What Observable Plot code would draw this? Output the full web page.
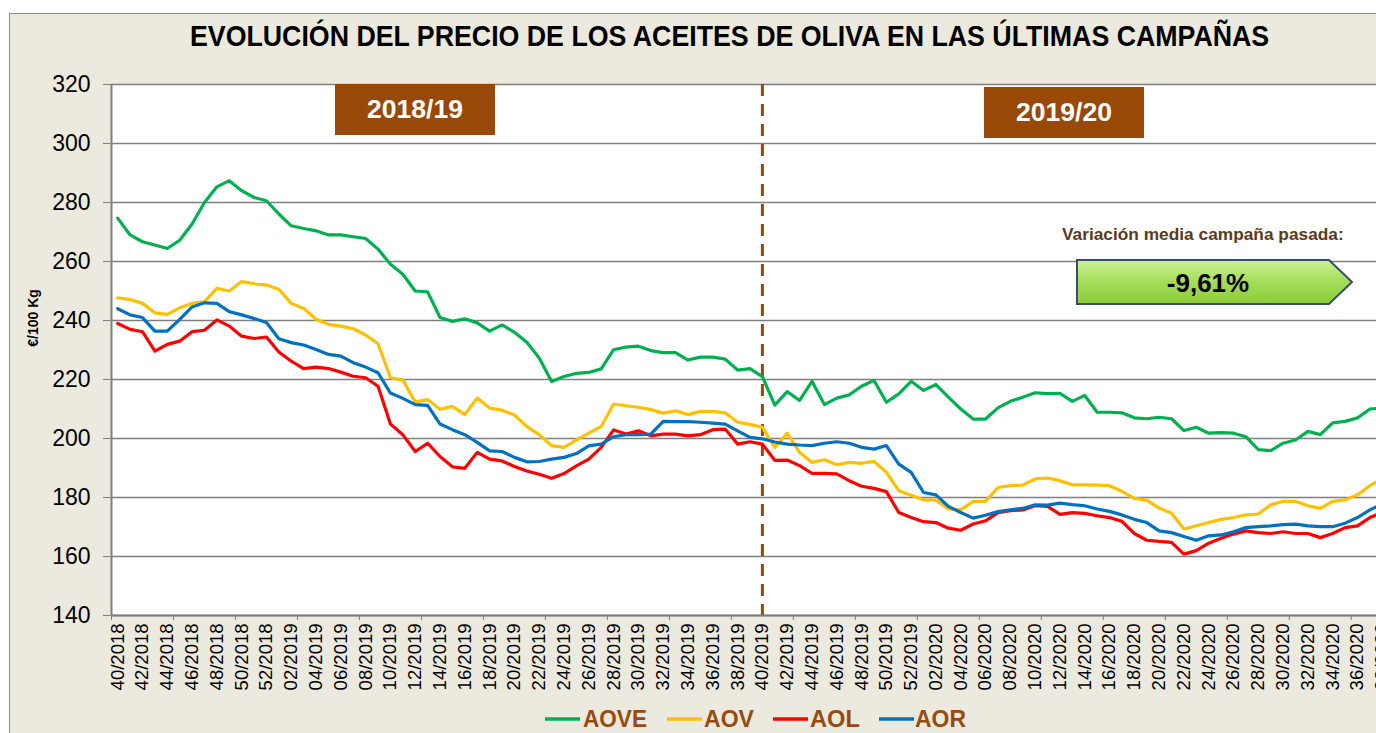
<!DOCTYPE html>
<html><head><meta charset="utf-8">
<script src="https://cdn.jsdelivr.net/npm/d3@7"></script>
<script src="https://cdn.jsdelivr.net/npm/@observablehq/plot@0.6"></script>
<style>
html,body{margin:0;padding:0;width:1376px;height:733px;overflow:hidden;background:#fff;}
#panel{position:absolute;left:9px;top:13px;width:1420px;height:800px;background:#ECE9DF;border:1.5px solid #8c8c8c;box-sizing:border-box}
#chart{position:absolute;left:0;top:0}
#overlay{position:absolute;left:0;top:0;pointer-events:none}
</style></head><body>
<div id="panel"></div>
<div id="chart"></div>
<svg id="overlay" width="1376" height="733"></svg>
<script>
const weeks = ("40/2018 41/2018 42/2018 43/2018 44/2018 45/2018 46/2018 47/2018 48/2018 49/2018 50/2018 51/2018 52/2018 " +
 "01/2019 02/2019 03/2019 04/2019 05/2019 06/2019 07/2019 08/2019 09/2019 10/2019 11/2019 12/2019 13/2019 14/2019 15/2019 16/2019 17/2019 18/2019 19/2019 20/2019 21/2019 22/2019 23/2019 24/2019 25/2019 26/2019 " +
 "27/2019 28/2019 29/2019 30/2019 31/2019 32/2019 33/2019 34/2019 35/2019 36/2019 37/2019 38/2019 39/2019 40/2019 41/2019 42/2019 43/2019 44/2019 45/2019 46/2019 47/2019 48/2019 49/2019 50/2019 51/2019 52/2019 " +
 "01/2020 02/2020 03/2020 04/2020 05/2020 06/2020 07/2020 08/2020 09/2020 10/2020 11/2020 12/2020 13/2020 14/2020 15/2020 16/2020 17/2020 18/2020 19/2020 " +
 "20/2020 21/2020 22/2020 23/2020 24/2020 25/2020 26/2020 27/2020 28/2020 29/2020 30/2020 31/2020 32/2020 33/2020 34/2020 35/2020 36/2020 37/2020 38/2020").split(" ");

const seriesNames = ["AOVE", "AOV", "AOL", "AOR"];
const seriesColors = ["#00B050", "#FFC000", "#FF0000", "#0070C0"];

const AOVE = [274.7,269.0,266.7,265.6,264.4,267.2,272.7,280.0,285.3,287.4,284.0,281.7,280.6,276.1,272.1,271.2,270.4,269.0,269.0,268.4,
 267.8,264.2,259.1,255.7,250.0,249.7,241.0,239.7,240.6,239.2,236.4,238.5,236.0,232.6,227.3,219.3,221.0,222.1,222.4,223.6,
 230.1,231.0,231.3,229.8,229.1,229.1,226.6,227.6,227.6,226.9,223.2,223.7,221.0,211.3,215.9,212.9,219.4,211.5,213.7,214.8,
 217.7,219.7,212.3,215.1,219.4,216.3,218.3,214.0,210.0,206.6,206.6,210.4,212.6,214.0,215.5,215.2,215.3,212.6,214.6,208.9,
 208.9,208.7,207.0,206.7,207.2,206.7,202.7,203.8,201.8,202.0,201.8,200.6,196.2,195.9,198.4,199.5,202.4,201.3,205.3,205.8,
 207.0,210.0,210.3];
const AOV = [247.7,247.1,245.8,242.6,242.1,244.3,245.8,246.4,250.9,250.0,253.2,252.5,252.0,250.6,245.8,244.1,240.4,238.7,238.1,237.2,
 235.1,232.1,220.6,219.8,212.4,213.2,209.9,210.9,208.1,213.7,210.3,209.6,208.0,204.0,201.3,197.6,197.0,199.5,201.8,204.1,
 211.7,211.1,210.6,209.8,208.6,209.4,208.1,209.2,209.2,208.7,205.5,204.8,203.8,197.0,201.8,195.3,191.9,192.8,191.1,191.9,
 191.6,192.3,188.5,182.3,180.8,179.2,179.1,176.1,175.8,178.7,178.7,183.4,184.0,184.2,186.3,186.6,185.7,184.3,184.3,184.2,
 184.0,182.1,179.7,179.1,176.4,174.7,169.3,170.4,171.5,172.6,173.2,174.1,174.4,177.5,178.7,178.7,177.2,176.3,178.7,179.2,
 180.9,184.0,186.3];
const AOL = [239.0,237.0,236.2,229.6,231.9,233.0,236.2,236.7,240.2,238.1,234.7,233.9,234.4,229.3,226.2,223.7,224.2,223.7,222.5,221.1,
 220.6,217.7,204.9,201.3,195.6,198.4,193.9,190.4,189.9,195.3,193.0,192.4,190.5,189.0,187.9,186.5,188.1,190.7,193.0,197.0,
 202.9,201.5,202.6,200.9,201.5,201.5,200.9,201.3,203.0,203.2,198.1,198.9,198.1,192.6,192.7,190.8,188.2,188.2,188.0,185.7,
 183.8,183.1,182.0,174.9,173.2,171.8,171.5,169.6,168.9,171.0,172.1,174.9,175.5,175.8,177.2,177.0,174.3,174.9,174.6,173.8,
 173.2,171.9,167.8,165.5,165.1,164.8,160.8,162.0,164.5,166.2,167.6,168.7,168.1,167.8,168.4,167.8,167.8,166.4,167.8,169.8,
 170.4,173.2,174.9];
const AOR = [244.0,241.9,241.0,236.4,236.4,240.4,244.6,246.0,245.8,243.0,241.9,240.7,239.3,233.8,232.5,231.7,230.2,228.5,227.9,225.7,
 224.2,222.3,215.4,213.6,211.5,211.2,204.9,203.0,201.3,198.7,195.8,195.6,193.6,192.1,192.2,193.0,193.6,194.9,197.5,198.1,
 200.6,201.3,201.3,201.5,205.8,205.7,205.7,205.5,205.2,204.9,202.6,200.4,199.9,198.8,198.1,197.8,197.6,198.4,198.9,198.4,
 197.0,196.4,197.6,191.3,188.5,181.7,180.9,177.0,174.9,173.0,174.0,175.2,175.8,176.3,177.5,177.4,178.1,177.6,177.2,176.1,
 175.3,174.1,172.6,171.5,168.7,168.1,166.8,165.5,167.0,167.3,168.4,169.8,170.1,170.4,170.8,171.0,170.4,170.1,170.1,171.3,
 173.2,175.8,177.8];

const yTicks = [140, 160, 180, 200, 220, 240, 260, 280, 300, 320];
const campaignStart = "40/2019";
const title = "EVOLUCIÓN DEL PRECIO DE LOS ACEITES DE OLIVA EN LAS ÚLTIMAS CAMPAÑAS";
const yLabel = "€/100 Kg";
const campaigns = ["2018/19", "2019/20"];
const variationLabel = "Variación media campaña pasada:";
const variationValue = "-9,61%";

const seriesValues = [AOVE, AOV, AOL, AOR];
const data = [];
seriesNames.forEach((s, k) => seriesValues[k].forEach((v, i) => data.push({i, v, s})));

const labelIdx = weeks.map((w, i) => i).filter(i => +weeks[i].slice(0, 2) % 2 === 0);
const boundaryTicks = [];
for (let b = -0.5; b <= weeks.length - 0.5; b += 5) boundaryTicks.push(b);
const startIdx = weeks.indexOf(campaignStart);
const font = "'Liberation Sans', Arial, sans-serif";

const chart = Plot.plot({
  width: 1388, height: 733,
  marginLeft: 111, marginRight: 0, marginTop: 84, marginBottom: 118,
  style: {background: "transparent", maxWidth: "none", fontFamily: font, color: "black"},
  x: {type: "linear", domain: [-0.5, weeks.length - 0.5], axis: null},
  y: {domain: [140, 320], axis: null},
  color: {domain: seriesNames, range: seriesColors},
  marks: [
    Plot.frame({fill: "white", stroke: "none"}),
    Plot.gridY(yTicks, {stroke: "#7f7f7f", strokeOpacity: 1, strokeWidth: 1.4}),
    Plot.ruleX([startIdx], {stroke: "#984807", strokeWidth: 3, strokeDasharray: "12,8"}),
    Plot.line(data, {x: "i", y: "v", z: "s", stroke: "s", strokeWidth: 3.2, strokeLinejoin: "round"}),
    Plot.ruleY([140], {stroke: "#7f7f7f", strokeWidth: 2}),
    Plot.ruleX([-0.5], {stroke: "#7f7f7f", strokeWidth: 2}),
    Plot.axisY({ticks: yTicks, tickSize: 8, tickPadding: 13, fontSize: 23, fill: "black", stroke: "#7f7f7f", label: null}),
    Plot.axisX({ticks: labelIdx, tickFormat: i => weeks[i], tickRotate: -90, tickSize: 0, tickPadding: 8, fontSize: 18.5, fill: "black", label: null}),
    Plot.axisX({ticks: boundaryTicks, tickSize: 5, tickFormat: () => "", stroke: "#7f7f7f", label: null})
  ]
});
document.getElementById("chart").appendChild(chart);

// overlay annotations, title and legend
const ov = document.getElementById("overlay");
const narrow = "'Liberation Sans Narrow', 'Liberation Sans', Arial, sans-serif";
const legendPos = [[545, 583, 64], [667, 704, 50], [773, 810, 50], [879, 915, 51]];
let html = `
<defs>
  <linearGradient id="gg" x1="0" y1="0" x2="0" y2="1">
    <stop offset="0" stop-color="#CDF296"/>
    <stop offset="0.5" stop-color="#A4DD58"/>
    <stop offset="1" stop-color="#8CCB3E"/>
  </linearGradient>
</defs>
<text class="fit" data-x="190" data-w="1080" y="46" font-family="${narrow}" font-weight="bold" font-size="30" fill="#000">${title}</text>
<text transform="translate(38,318) rotate(-90)" text-anchor="middle" font-family="${font}" font-weight="bold" font-size="14" fill="#000">${yLabel}</text>
<rect x="335" y="84" width="160" height="51" fill="#984807"/>
<text class="fit" data-x="367" data-w="96" y="118" font-family="${narrow}" font-weight="bold" font-size="25" fill="#fff">${campaigns[0]}</text>
<rect x="984" y="87" width="160" height="51" fill="#984807"/>
<text class="fit" data-x="1016" data-w="96" y="121" font-family="${narrow}" font-weight="bold" font-size="25" fill="#fff">${campaigns[1]}</text>
<text class="fit" data-x="1062" data-w="282" y="240" font-family="${font}" font-weight="bold" font-size="17" fill="#5B3A1C">${variationLabel}</text>
<path d="M1077,260 L1329,260 L1352,282 L1329,304 L1077,304 Z" fill="url(#gg)" stroke="#34506E" stroke-width="2"/>
<text x="1208" y="292" text-anchor="middle" font-family="${font}" font-weight="bold" font-size="26" fill="#000">${variationValue}</text>
`;
seriesNames.forEach((s, k) => {
  const [lx, tx, tl] = legendPos[k];
  html += `<line x1="${lx}" x2="${lx + 35}" y1="719" y2="719" stroke="${seriesColors[k]}" stroke-width="3.5"/>`;
  html += `<text class="fit" data-x="${tx}" data-w="${tl}" y="727" font-family="${narrow}" font-weight="bold" font-size="23" fill="#974C0E">${s}</text>`;
});
ov.innerHTML = html;
// fit texts horizontally to the reference widths with a scale transform
ov.querySelectorAll("text.fit").forEach(t => {
  const x = +t.dataset.x, w = +t.dataset.w;
  const y = +t.getAttribute("y");
  t.setAttribute("x", 0);
  t.setAttribute("y", 0);
  const natural = t.getComputedTextLength() || w;
  const sx = Math.min(1.15, w / natural);
  t.setAttribute("transform", `translate(${x},${y}) scale(${sx},1)`);
});
</script>
</body></html>
